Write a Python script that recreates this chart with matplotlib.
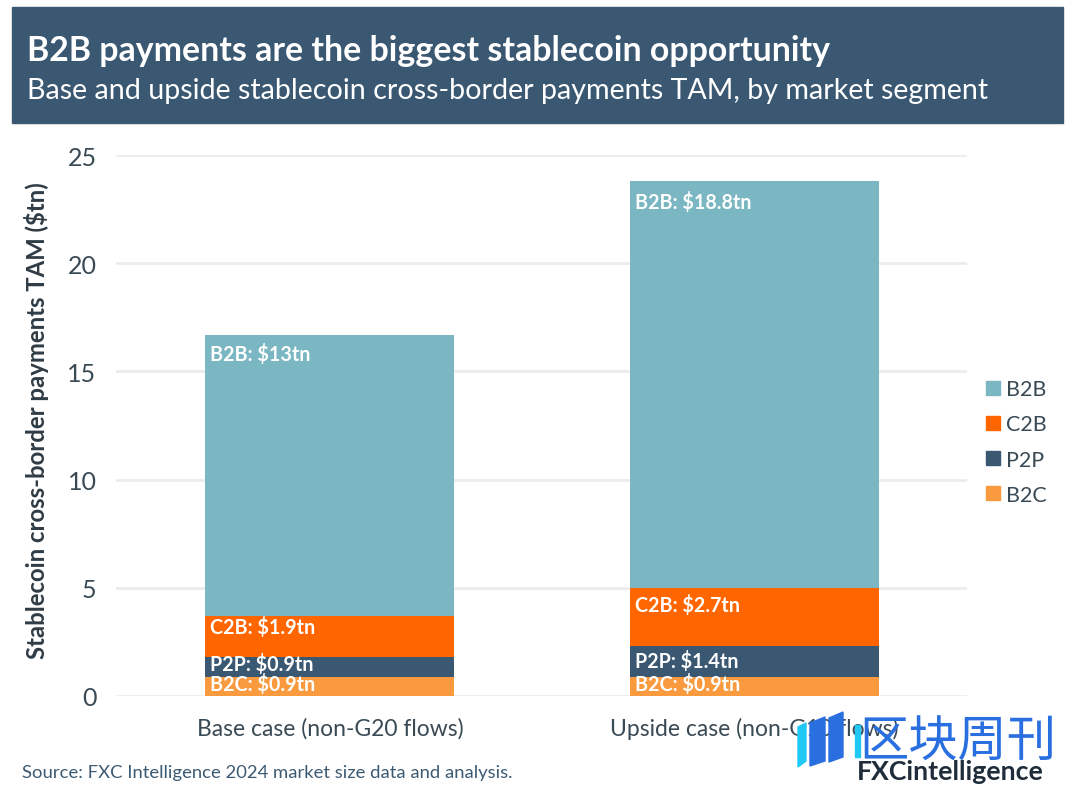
import numpy as np
import matplotlib
matplotlib.use("Agg")
import matplotlib.pyplot as plt
from matplotlib.patches import Rectangle, Polygon

plt.rcParams['font.family'] = ['Lato', 'Noto Sans CJK SC', 'DejaVu Sans']

cases = ["Base case (non-G20 flows)", "Upside case (non-G10 flows)"]
segments = ["B2C", "P2P", "C2B", "B2B"]
b2c = [0.9, 0.9]
p2p = [0.9, 1.4]
c2b = [1.9, 2.7]
b2b = [13, 18.8]
point_labels = [["$0.9tn", "$0.9tn"], ["$0.9tn", "$1.4tn"], ["$1.9tn", "$2.7tn"], ["$13tn", "$18.8tn"]]
colors = ["#f99a3f", "#3a5872", "#ff6600", "#7ab7c2"]
yticks = [0, 5, 10, 15, 20, 25]

# how far each label centre sits below its segment top, in pixels
label_drop = [[7, 7], [6, 14], [11, 17], [19, 21]]

W, H = 1080, 812
fig = plt.figure(figsize=(W / 100, H / 100), dpi=100, facecolor="white")

# title banner
fig.add_artist(Rectangle((12 / W, 1 - 124 / H), 1051 / W, 116 / H, transform=fig.transFigure, color="#3a5872"))
fig.text(27 / W, 1 - 51 / H, "B2B payments are the biggest stablecoin opportunity", color="white", fontsize=24.4, fontweight="bold", va="center")
fig.text(27 / W, 1 - 91 / H, "Base and upside stablecoin cross-border payments TAM, by market segment", color="white", fontsize=20.6, va="center")

ax = fig.add_axes([116 / W, 1 - 697 / H, 851 / W, 541 / H])
x = np.array([0, 1])
bottom = np.zeros(2)
bar_w = 0.587
for name, vals, col, labs, drops in zip(segments, [b2c, p2p, c2b, b2b], colors, point_labels, label_drop):
    ax.bar(x, vals, width=bar_w, bottom=bottom, color=col, zorder=3)
    for i in range(2):
        ax.annotate(name + ": " + labs[i].replace("$", r"\$"), (x[i] - bar_w / 2, bottom[i] + vals[i]),
                    xytext=(3.5, -drops[i] * 0.72), textcoords="offset points", color="white",
                    fontsize=14.2, fontweight="bold", va="center", zorder=4)
    bottom += np.array(vals)

ax.set_xlim(-0.504, 1.501)
ax.set_ylim(0, 25)
ax.set_yticks(yticks)
ax.set_xticks(x)
ax.set_xticklabels(cases)
ax.tick_params(axis="both", length=0, colors="#3a4a55")
ax.tick_params(axis="y", labelsize=18, pad=14)
ax.tick_params(axis="x", labelsize=16.5, pad=15)
ax.grid(axis="y", color="#ececec", lw=2, zorder=0)
for s in ax.spines.values():
    s.set_visible(False)
ax.set_ylabel("Stablecoin cross-border payments TAM ($tn)".replace("$", r"\$"), fontsize=17.2, fontweight="bold", color="#2f3b45", labelpad=13, y=0.511)

# legend, B2B on top
handles = [Rectangle((0, 0), 1, 1, color=c) for c in colors[::-1]]
fig.legend(handles, segments[::-1], loc="center left", bbox_to_anchor=(967 / W, 1 - 443 / H), frameon=False,
           fontsize=15.5, labelcolor="#3a4a55", handlelength=0.65, handleheight=0.6, handletextpad=0.25, labelspacing=0.7)

fig.text(22 / W, 1 - 773 / H, "Source: FXC Intelligence 2024 market size data and analysis.", fontsize=13.3, color="#3d5a73", va="center")

# logo and watermark
fig.text(857 / W, 1 - 772 / H, "FXCintelligence", fontsize=19.2, fontweight="bold", color="#1f2d3a", va="center", zorder=10)
fig.text(859 / W, 1 - 742 / H, "区块周刊", fontsize=35.5, color="#2a6fe0", va="center", zorder=10)
stripes = [
    ([798, 806, 806, 798], [728, 724, 762, 768], "#1fc8f5"),
    ([810, 825, 825, 810], [724, 718, 762, 767], "#2a6fe0"),
    ([829, 843, 843, 829], [719, 713, 758, 763], "#2a6fe0"),
    ([855, 860, 860, 855], [726, 726, 758, 758], "#1fc8f5"),
]
for xs, ys, col in stripes:
    pts = [(px / W, 1 - py / H) for px, py in zip(xs, ys)]
    fig.add_artist(Polygon(pts, closed=True, transform=fig.transFigure, color=col, zorder=10))

fig.savefig("out.png", dpi=100)
